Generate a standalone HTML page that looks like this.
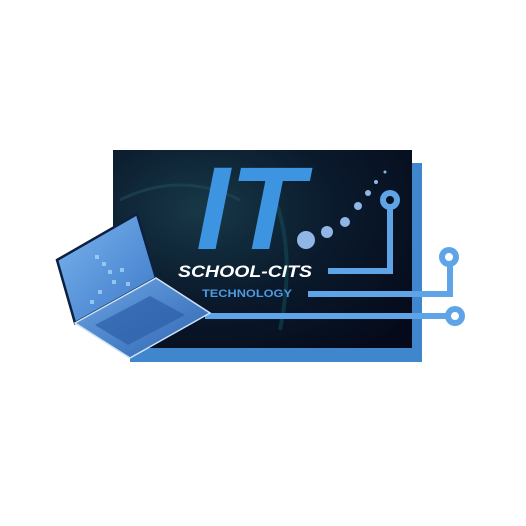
<!DOCTYPE html>
<html><head><style>
html,body{margin:0;padding:0;background:#fff;}
svg{display:block}
</style></head><body>
<svg width="526" height="526" viewBox="0 0 526 526" xmlns="http://www.w3.org/2000/svg">
<defs>
<radialGradient id="bg" cx="0.3" cy="0.3" r="0.9">
<stop offset="0" stop-color="#173848"/><stop offset="0.5" stop-color="#0a1a2c"/><stop offset="1" stop-color="#050a1a"/>
</radialGradient>
<linearGradient id="scr" x1="0" y1="0" x2="1" y2="1">
<stop offset="0" stop-color="#7ab4ee"/><stop offset="1" stop-color="#3c78c8"/>
</linearGradient>
<linearGradient id="base" x1="0" y1="0" x2="1" y2="1">
<stop offset="0" stop-color="#6ea6e6"/><stop offset="1" stop-color="#2d64b0"/>
</linearGradient>
</defs>
<!-- back blue frame -->
<rect x="130" y="163" width="292" height="199" fill="#3f86cc"/>
<!-- dark panel -->
<rect x="113" y="150" width="299" height="198" fill="url(#bg)"/>
<path d="M120 200 Q180 170 240 200" stroke="#1c4b5c" stroke-width="3" fill="none" opacity="0.6"/>
<path d="M260 170 Q300 230 280 330" stroke="#14505a" stroke-width="4" fill="none" opacity="0.5"/>
<!-- IT -->
<text x="196" y="249" font-family="Liberation Sans, sans-serif" font-weight="bold" font-style="italic" font-size="118" fill="#3d94e0" textLength="108" lengthAdjust="spacingAndGlyphs">IT</text>
<!-- dots -->
<circle cx="306" cy="240" r="9" fill="#8fb6e6"/>
<circle cx="327" cy="232" r="6" fill="#8fb6e6"/>
<circle cx="345" cy="222" r="5" fill="#8fb6e6"/>
<circle cx="358" cy="206" r="4" fill="#8fb6e6"/>
<circle cx="368" cy="193" r="3" fill="#8fb6e6"/>
<circle cx="376" cy="182" r="2" fill="#8fb6e6"/>
<circle cx="385" cy="172" r="1.5" fill="#8fb6e6"/>
<!-- circuit 1 -->
<path d="M328 271 H390 V201" stroke="#5ea4e6" stroke-width="6" fill="none"/>
<circle cx="390" cy="200" r="10" fill="#5ea4e6"/><circle cx="390" cy="200" r="4" fill="#06101e"/>
<!-- circuit 2 -->
<path d="M308 294 H450 V259" stroke="#5ea4e6" stroke-width="6" fill="none"/>
<circle cx="449" cy="257" r="10" fill="#5ea4e6"/><circle cx="449" cy="257" r="4" fill="#fff"/>
<!-- circuit 3 -->
<path d="M205 316 H452" stroke="#5ea4e6" stroke-width="6" fill="none"/>
<circle cx="455" cy="316" r="10" fill="#5ea4e6"/><circle cx="455" cy="316" r="4" fill="#fff"/>
<!-- texts -->
<text x="178" y="277" font-family="Liberation Sans, sans-serif" font-weight="bold" font-style="italic" font-size="17" fill="#fff" textLength="134" lengthAdjust="spacingAndGlyphs">SCHOOL-CITS</text>
<text x="202" y="297" font-family="Liberation Sans, sans-serif" font-weight="bold" font-size="11" fill="#4d9ae0" textLength="90" lengthAdjust="spacingAndGlyphs">TECHNOLOGY</text>
<!-- laptop -->
<polygon points="137,214 57,260 75,323 156,278" fill="url(#scr)" stroke="#0e2040" stroke-width="2.5"/>
<polygon points="75,323 156,278 210,313 130,358" fill="url(#base)" stroke="#cfe3f8" stroke-width="1.5"/>
<polygon points="95,325 150,296 185,315 128,345" fill="#2c5fa8" opacity="0.7"/>
<g fill="#bfe6ff" opacity="0.6">
<rect x="95" y="255" width="4" height="4"/><rect x="102" y="262" width="4" height="4"/><rect x="108" y="270" width="4" height="4"/><rect x="112" y="280" width="4" height="4"/><rect x="98" y="290" width="4" height="4"/><rect x="120" y="268" width="4" height="4"/><rect x="90" y="300" width="4" height="4"/><rect x="126" y="282" width="4" height="4"/>
</g>
</svg>
</body></html>
